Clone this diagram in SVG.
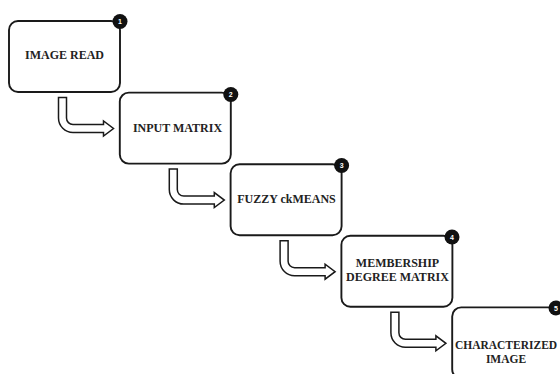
<svg xmlns="http://www.w3.org/2000/svg" xmlns:xlink="http://www.w3.org/1999/xlink" width="560" height="374" viewBox="0 0 560 374">
<style>
.box{fill:#fff;stroke:#1a1a1a;stroke-width:1.9}
.lbl{font-family:"Liberation Serif","Times New Roman",serif;font-weight:bold;font-size:12px;fill:#222;text-anchor:middle}
.badge{fill:#111}
.num{font-family:"Liberation Sans",Arial,sans-serif;font-weight:bold;font-size:7px;fill:#fff;text-anchor:middle}
.arr{fill:#fff;stroke:#1a1a1a;stroke-width:1.5;stroke-linejoin:miter}
</style>
<defs>
<path id="hook" class="arr" d="M58.5,97.5 H66.5 V118 A6.5,6.5 0 0 0 73,124.5 H103.5 V121 L113.5,128.5 L103.5,136 V132.5 H73 A14.5,14.5 0 0 1 58.5,118 Z"/>
</defs>
<rect width="560" height="374" fill="#fff"/>
<g id="connectors">
<use xlink:href="#hook" href="#hook"/>
<use xlink:href="#hook" href="#hook" transform="translate(110.8,71.6)"/>
<use xlink:href="#hook" href="#hook" transform="translate(221.6,143.2)"/>
<use xlink:href="#hook" href="#hook" transform="translate(332.4,214.8)"/>
</g>
<g id="node1">
<rect class="box" x="9" y="21" width="111" height="71" rx="9"/>
<text class="lbl" x="64.5" y="59.3">IMAGE READ</text>
<circle class="badge" cx="120" cy="21.5" r="7.5"/>
<text class="num" x="120" y="24">1</text>
</g>
<g id="node2">
<rect class="box" x="119.8" y="92.6" width="111" height="71" rx="9"/>
<text class="lbl" x="177.5" y="131.7">INPUT MATRIX</text>
<circle class="badge" cx="230.8" cy="94.5" r="7.5"/>
<text class="num" x="230.8" y="97">2</text>
</g>
<g id="node3">
<rect class="box" x="230.6" y="164.2" width="111" height="71" rx="9"/>
<text class="lbl" x="286.5" y="203">FUZZY ckMEANS</text>
<circle class="badge" cx="341.6" cy="165.5" r="7.5"/>
<text class="num" x="341.6" y="168">3</text>
</g>
<g id="node4">
<rect class="box" x="341.4" y="235.8" width="111" height="71" rx="9"/>
<text class="lbl" x="397.5" y="267.3">MEMBERSHIP</text>
<text class="lbl" x="397.5" y="280.7">DEGREE MATRIX</text>
<circle class="badge" cx="452" cy="237" r="7.5"/>
<text class="num" x="452" y="239.5">4</text>
</g>
<g id="node5">
<rect class="box" x="452.2" y="307.4" width="111" height="71" rx="9"/>
<text class="lbl" x="506" y="349" style="font-size:11.5px">CHARACTERIZED</text>
<text class="lbl" x="506" y="362.7" style="font-size:11.5px">IMAGE</text>
<circle class="badge" cx="556" cy="308" r="7.5"/>
<text class="num" x="556" y="310.5">5</text>
</g>
</svg>
